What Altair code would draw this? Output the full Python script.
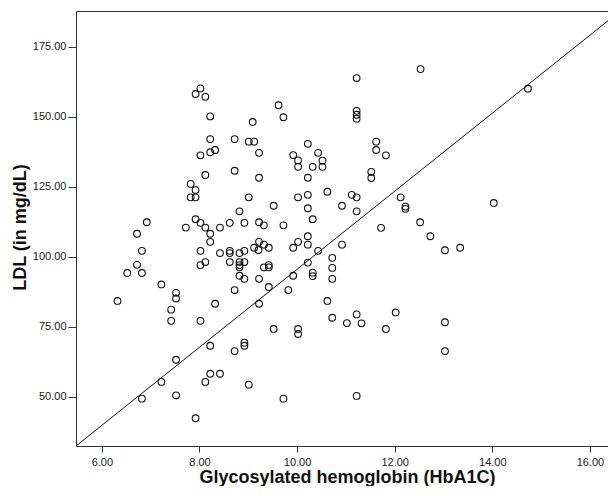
import altair as alt
import pandas as pd

hba1c = [8.02, 7.92, 8.12, 8.22, 9.09, 8.22, 8.72, 9.01, 9.12, 8.32, 8.22, 8.02, 8.72, 8.12, 7.82, 7.92,
         7.82, 7.92, 9.01, 8.82, 6.92, 7.92, 8.02, 8.12, 7.72, 8.42, 8.62, 8.92, 6.72, 8.22, 8.22, 6.82,
         8.02, 8.42, 8.62, 8.62, 8.82, 8.92, 9.12, 6.72, 6.52, 6.82, 8.02, 8.12, 8.62, 8.82, 8.82, 8.82,
         8.92, 8.82, 8.92, 7.22, 7.52, 7.52, 6.32, 8.72, 8.32, 7.42, 7.42, 8.02, 8.22, 8.72, 8.92, 8.92,
         7.52, 8.22, 8.42, 8.12, 7.22, 9.01, 6.82, 7.52, 7.92,
         9.62, 9.72, 11.22, 11.22, 11.22, 11.22, 10.22, 9.22, 9.92, 10.02, 10.02, 10.43, 10.52, 10.52,
         10.32, 11.62, 11.62, 11.82, 11.52, 11.52, 9.22, 10.22, 10.62, 11.12, 11.22, 10.22, 10.02, 12.12,
         12.22, 12.22, 12.52, 9.52, 10.22, 10.92, 11.22, 10.32, 9.22, 9.32, 9.72, 11.72, 10.22, 10.02,
         10.22, 9.22, 9.32, 9.42, 9.92, 10.92, 10.43, 10.72, 9.21, 9.32, 9.42, 9.42, 9.22, 10.22, 10.72,
         10.72, 10.32, 10.32, 9.92, 9.42, 9.82, 9.22, 10.62, 10.72, 11.02, 11.22, 11.32, 11.82, 12.02,
         9.52, 10.02, 10.02, 9.72, 11.22, 12.53, 14.73, 12.73, 13.03, 13.34, 14.03, 13.03, 13.03]

ldl = [160.1, 158.1, 157.1, 150.1, 148.1, 142.0, 142.0, 141.1, 141.1, 138.1, 137.3, 136.2, 130.7, 129.2,
       126.0, 123.8, 121.2, 121.2, 121.2, 116.2, 112.3, 113.4, 112.1, 110.4, 110.4, 110.4, 112.1, 112.1,
       108.2, 108.2, 105.3, 102.1, 102.1, 101.3, 102.1, 101.3, 101.3, 102.1, 103.2, 97.1, 94.2, 94.2,
       97.0, 98.1, 98.1, 98.1, 97.0, 96.2, 98.1, 93.2, 92.1, 90.1, 87.1, 85.1, 84.2, 88.1, 83.2, 81.1,
       77.1, 77.1, 68.2, 66.3, 69.3, 68.2, 63.2, 58.2, 58.2, 55.3, 55.3, 54.3, 49.3, 50.5, 42.3,
       154.1, 149.8, 163.8, 152.1, 150.7, 149.3, 140.3, 137.1, 136.3, 134.4, 132.1, 137.1, 134.3, 132.1,
       132.1, 141.1, 138.1, 136.2, 130.3, 128.1, 128.2, 128.2, 123.2, 122.1, 121.2, 122.1, 121.2, 121.2,
       117.9, 117.1, 112.3, 118.2, 117.3, 118.2, 116.2, 113.4, 112.3, 111.2, 111.2, 110.3, 107.3, 105.3,
       104.3, 105.3, 104.3, 103.2, 103.2, 104.3, 102.1, 99.6, 102.4, 96.2, 97.0, 96.2, 92.1, 97.9, 96.0,
       92.1, 94.3, 93.1, 93.2, 89.2, 88.1, 83.2, 84.2, 78.2, 76.3, 79.4, 76.2, 74.2, 80.1,
       74.2, 74.2, 72.4, 49.3, 50.3, 167.0, 160.0, 107.3, 102.3, 103.2, 119.2, 76.6, 66.3]

x_domain = [5.47, 16.37]
y_domain = [32.4, 187.75]
x_ticks = [6, 8, 10, 12, 14, 16]
y_ticks = [50, 75, 100, 125, 150, 175]
line_x = [5.47, 16.62]
line_y = [32.4, 187.75]

pts = pd.DataFrame({"hba1c": hba1c, "ldl": ldl})
ref = pd.DataFrame({"hba1c": line_x, "ldl": line_y})

FONT = "Liberation Sans"
AX = "#333333"

y_axis = alt.Axis(values=y_ticks, format=".2f", grid=False, tickSize=8, labelPadding=2,
                  labelFont=FONT, labelFontSize=11, labelColor="#222222",
                  domainColor=AX, tickColor=AX, title="LDL (in mg/dL)",
                  titleFont=FONT, titleFontSize=18, titleFontWeight="bold", titleColor="#111111",
                  titleAngle=270, titleX=-51, titleY=216, titleAlign="center",
                  titleBaseline="alphabetic")

scatter = alt.Chart(pts).mark_point(
    shape="circle", filled=False, color="#111111", strokeWidth=1.1, size=45, opacity=1
).encode(
    x=alt.X("hba1c:Q", scale=alt.Scale(domain=x_domain, nice=False, zero=False),
            axis=alt.Axis(values=x_ticks, format=".2f", grid=False, tickSize=6, labelPadding=4,
                          labelFont=FONT, labelFontSize=11, labelColor="#222222",
                          domainColor=AX, tickColor=AX,
                          title="Glycosylated hemoglobin (HbA1C)", titleFont=FONT,
                          titleFontSize=18, titleFontWeight="bold", titleColor="#111111",
                          titleX=271, titleY=36, titleAlign="center",
                          titleBaseline="alphabetic")),
    y=alt.Y("ldl:Q", scale=alt.Scale(domain=y_domain, nice=False, zero=False), axis=y_axis),
)

line = alt.Chart(ref).mark_line(color="#111111", strokeWidth=1, clip=True).encode(
    x=alt.X("hba1c:Q", scale=alt.Scale(domain=x_domain, nice=False, zero=False),
            axis=alt.Axis(orient="top", labels=False, ticks=False, grid=False, title=None,
                          domainColor=AX)),
    y=alt.Y("ldl:Q", scale=alt.Scale(domain=y_domain, nice=False, zero=False), axis=y_axis),
)

chart = alt.layer(scatter, line).resolve_axis(x="independent").properties(
    width=532, height=435,
    autosize=alt.AutoSizeParams(type="none"),
    padding={"left": 68, "top": 3, "right": 0, "bottom": 40},
    background="white",
).configure_view(stroke=None)

chart.save("out.html", embed_options={"renderer": "svg", "actions": False})
